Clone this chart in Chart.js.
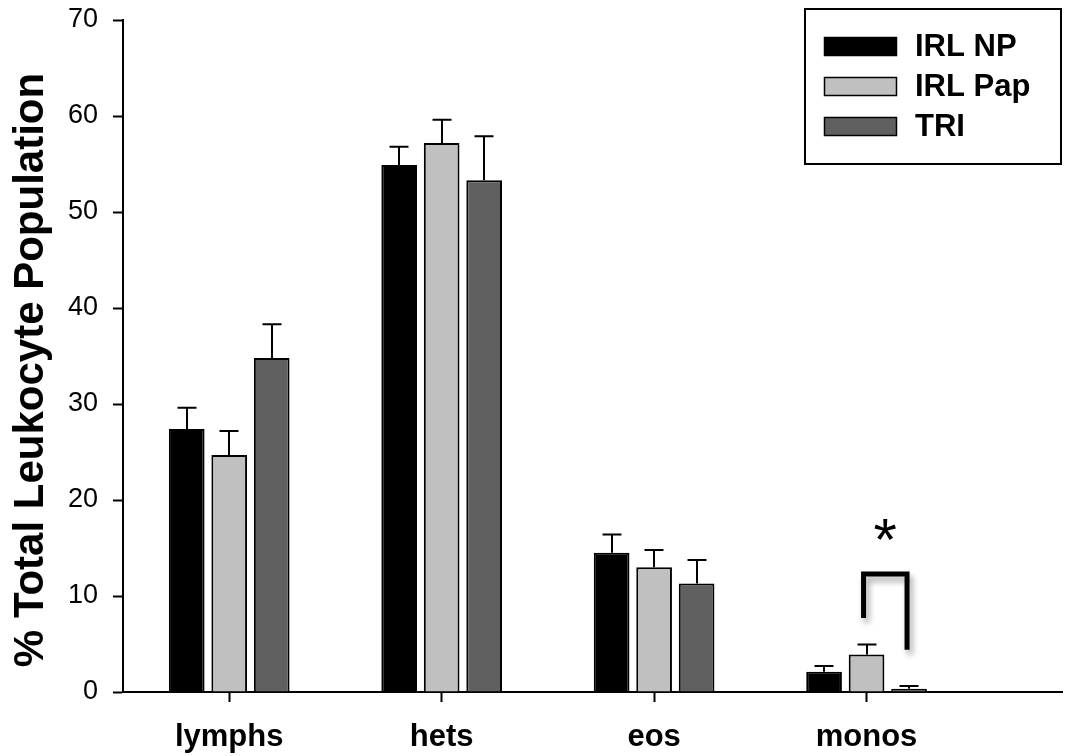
<!DOCTYPE html>
<html>
<head>
<meta charset="utf-8">
<script src="https://cdn.jsdelivr.net/npm/chart.js@4.4.1/dist/chart.umd.min.js"></script>
<style>
  html, body { margin: 0; padding: 0; background: #fff; }
  #wrap { width: 1075px; height: 756px; position: relative; }
</style>
</head>
<body>
<div id="wrap"><canvas id="chart"></canvas></div>
<script>
/* Leukocyte differential: grouped bars with upward SE bars + significance bracket on monos. */

const cellTypes = ['lymphs', 'hets', 'eos', 'monos'];
const seriesNames = ['IRL NP', 'IRL Pap', 'TRI'];

const npMeans = [27.4, 54.9, 14.5, 2.1];
const npErrors = [2.2, 1.9, 1.9, 0.6];
const papMeans = [24.7, 57.2, 13.0, 3.9];
const papErrors = [2.5, 2.4, 1.8, 1.05];
const triMeans = [34.8, 53.3, 11.3, 0.35];
const triErrors = [3.5, 4.6, 2.45, 0.28];

const yTicks = [0, 10, 20, 30, 40, 50, 60, 70];
const yTitle = '% Total Leukocyte Population';

// bracket between IRL Pap and TRI in monos (y values)
const bracketTop = 12.3;
const bracketLeftEnd = 7.7;
const bracketRightEnd = 4.4;
const starLevel = 16.5;

const FONT = "'Liberation Sans', Arial, Helvetica, sans-serif";

function toPoints(vals) {
  return vals.map((v, i) => ({ x: i + 1, y: v }));
}

const errorBars = {
  id: 'errorBars',
  afterDatasetsDraw(chart) {
    const { ctx } = chart;
    const y = chart.scales.y;
    ctx.save();
    ctx.strokeStyle = '#000';
    ctx.lineWidth = 2;
    chart.data.datasets.forEach((ds, i) => {
      const meta = chart.getDatasetMeta(i);
      meta.data.forEach((bar, j) => {
        const top = y.getPixelForValue(ds.data[j].y + ds.errors[j]);
        const x = Math.round(bar.x);
        ctx.beginPath();
        ctx.moveTo(x, bar.y);
        ctx.lineTo(x, top);
        ctx.moveTo(x - 9.5, top);
        ctx.lineTo(x + 9.5, top);
        ctx.stroke();
      });
    });
    ctx.restore();
  }
};

const sigBracket = {
  id: 'sigBracket',
  afterDatasetsDraw(chart) {
    const { ctx } = chart;
    const y = chart.scales.y;
    const left = chart.getDatasetMeta(1).data[3].x - 3;
    const right = chart.getDatasetMeta(2).data[3].x - 2;
    const top = y.getPixelForValue(bracketTop);
    ctx.save();
    ctx.shadowColor = 'rgba(0,0,0,0.35)';
    ctx.shadowBlur = 6;
    ctx.shadowOffsetX = 3;
    ctx.shadowOffsetY = 5;
    ctx.strokeStyle = '#000';
    ctx.lineWidth = 5;
    ctx.lineCap = 'butt';
    ctx.lineJoin = 'miter';
    ctx.beginPath();
    ctx.moveTo(left, y.getPixelForValue(bracketLeftEnd));
    ctx.lineTo(left, top);
    ctx.lineTo(right, top);
    ctx.lineTo(right, y.getPixelForValue(bracketRightEnd));
    ctx.stroke();
    ctx.restore();

    ctx.save();
    ctx.fillStyle = '#000';
    ctx.font = `60px ${FONT}`;
    ctx.textAlign = 'center';
    ctx.textBaseline = 'alphabetic';
    ctx.fillText('*', (left + right) / 2, y.getPixelForValue(starLevel) + 26);
    ctx.restore();
  }
};

// y title drawn by hand so it can sit a little below the axis centre, as in the original
const sideTitle = {
  id: 'sideTitle',
  afterDraw(chart) {
    const { ctx } = chart;
    ctx.save();
    ctx.translate(31, 370);
    ctx.rotate(-Math.PI / 2);
    ctx.font = `bold 42px ${FONT}`;
    ctx.fillStyle = '#000';
    ctx.textAlign = 'center';
    ctx.textBaseline = 'middle';
    ctx.fillText(yTitle, 0, 0);
    ctx.restore();
  }
};

const boxLegend = {
  id: 'boxLegend',
  afterDraw(chart) {
    const { ctx } = chart;
    ctx.save();
    ctx.strokeStyle = '#000';
    ctx.lineWidth = 2;
    ctx.strokeRect(805, 9, 256, 155);
    ctx.font = `bold 31px ${FONT}`;
    ctx.textBaseline = 'middle';
    ctx.textAlign = 'left';
    chart.data.datasets.forEach((ds, i) => {
      const top = 37 + i * 40;
      ctx.fillStyle = ds.backgroundColor;
      ctx.fillRect(824, top, 73, 19);
      ctx.lineWidth = 1.5;
      ctx.strokeRect(824.5, top + 0.5, 72, 18);
      ctx.fillStyle = '#000';
      ctx.fillText(ds.label, 915, top + 10);
    });
    ctx.restore();
  }
};

new Chart(document.getElementById('chart'), {
  type: 'bar',
  data: {
    datasets: [
      { label: seriesNames[0], data: toPoints(npMeans), errors: npErrors,
        backgroundColor: '#000000', borderColor: '#000', borderWidth: 2 },
      { label: seriesNames[1], data: toPoints(papMeans), errors: papErrors,
        backgroundColor: '#c0c0c0', borderColor: '#000', borderWidth: 2 },
      { label: seriesNames[2], data: toPoints(triMeans), errors: triErrors,
        backgroundColor: '#606060', borderColor: '#000', borderWidth: 2 },
    ],
  },
  options: {
    responsive: true,
    maintainAspectRatio: false,
    animation: false,
    categoryPercentage: 0.6,
    barPercentage: 0.84,
    layout: { padding: { top: 20, right: 13, left: 0, bottom: 0 } },
    plugins: { legend: { display: false }, tooltip: { enabled: false } },
    scales: {
      x: {
        type: 'linear',
        min: 0.5,
        max: 4.92,
        offset: false,
        afterBuildTicks: (s) => { s.ticks = cellTypes.map((_, i) => ({ value: i + 1 })); },
        afterFit: (s) => { s.height = 64; s.paddingLeft = 0; s.paddingRight = 0; },
        ticks: {
          callback: (v) => cellTypes[v - 1] ?? '',
          font: { family: FONT, size: 31, weight: 'bold' },
          color: '#000',
          padding: 17,
          maxRotation: 0,
          autoSkip: false,
        },
        grid: { drawOnChartArea: false, offset: false, tickLength: 10, tickWidth: 2, tickColor: '#000' },
        border: { color: '#000', width: 2 },
      },
      y: {
        min: 0,
        max: 70,
        afterBuildTicks: (s) => { s.ticks = yTicks.map((v) => ({ value: v })); },
        afterFit: (s) => { s.width = 123; s.paddingTop = 0; s.paddingBottom = 0; },
        ticks: {
          font: { family: FONT, size: 27 },
          color: '#000',
          padding: 15,
        },
        grid: { drawOnChartArea: false, tickLength: 10, tickWidth: 2, tickColor: '#000' },
        border: { color: '#000', width: 2 },
      },
    },
  },
  plugins: [errorBars, sigBracket, sideTitle, boxLegend],
});
</script>
</body>
</html>
